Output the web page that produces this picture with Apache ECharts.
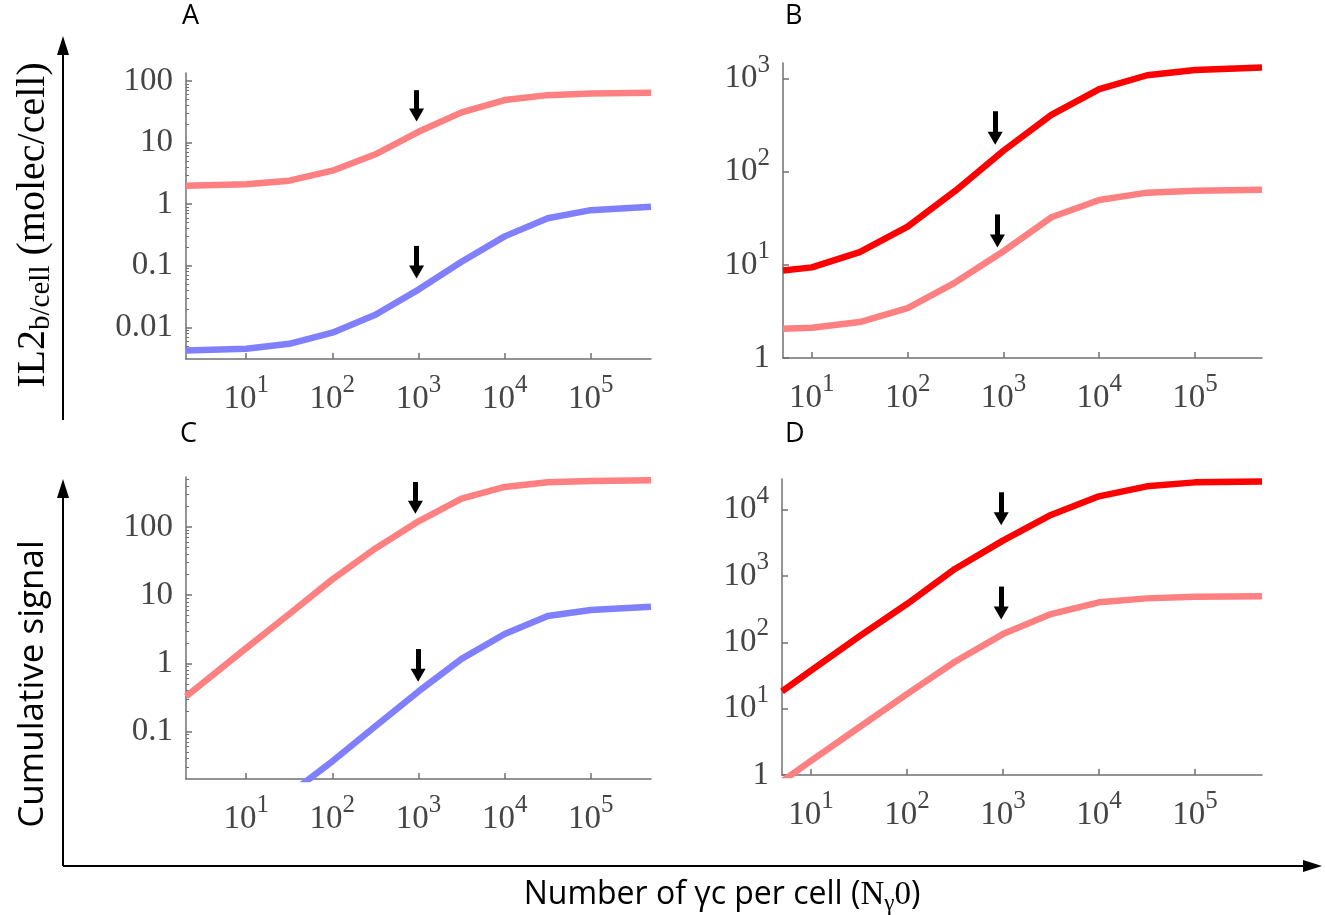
<!DOCTYPE html>
<html>
<head>
<meta charset="utf-8">
<script src="https://cdn.jsdelivr.net/npm/echarts@6/dist/echarts.min.js"></script>
<style>
html, body { margin: 0; padding: 0; background: #fff; }
#chart { width: 1325px; height: 915px; }
</style>
</head>
<body>
<div id="chart"></div>
<script>
// number of gamma-c per cell where the curves were sampled
const nFromTwo = [2, 10, 31.6, 100, 316, 1000, 3162, 10000, 31620, 100000, 500000];
const nFromFive = [5, 10, 31.6, 100, 316, 1000, 3162, 10000, 31620, 100000, 500000];

// A: IL2 bound per cell
const boundPinkA = [2.0, 2.1, 2.41, 3.5, 6.45, 15.0, 31, 49, 59, 63, 64.6];
const boundBlueA = [0.0042, 0.0045, 0.0054, 0.0082, 0.016, 0.041, 0.116, 0.30, 0.59, 0.80, 0.91];
// B
const boundRedB = [8.7, 9.4, 13.7, 25.7, 62.6, 168, 408, 769, 1086, 1239, 1312];
const boundPinkB = [2.06, 2.11, 2.43, 3.43, 6.5, 14.0, 32.4, 49.7, 59.6, 62.6, 64.1];
// C: cumulative signal
const signalPinkC = [0.326, 1.67, 5.3, 17.1, 48.7, 122, 263, 390, 457, 478, 489];
const signalBlueC = [null, null, 0.012, 0.0364, 0.119, 0.386, 1.16, 2.7, 4.96, 6.08, 6.8];
// D
const signalRedD = [18.2, 37.4, 122, 378, 1276, 3414, 8318, 15900, 22500, 25800, 26700];
const signalPinkD = [0.8, 1.63, 5.2, 16.6, 51, 133, 267, 401, 460, 488, 494];

// arrows: [x, top value, head value]
const arrowsA = [[950, 71, 28], [950, 0.21, 0.079]];
const arrowsB = [[820, 446, 229], [866, 34.8, 18]];
const arrowsC = [[920, 460, 196], [990, 1.62, 0.67]];
const arrowsD = [[960, 18300, 7310], [960, 693, 278]];

// tick labels
const xTicks = [10, 100, 1000, 10000, 100000];
const yTicksA = [0.01, 0.1, 1, 10, 100];
const yTicksB = [1, 10, 100, 1000];
const yTicksC = [0.1, 1, 10, 100];
const yTicksD = [1, 10, 100, 1000, 10000];

const PINK = '#ff8080';
const BLUE = '#8080ff';
const RED = '#ff0000';
const AXIS = '#707070';
const LABEL = '#454545';
const SERIF = 'Liberation Serif';
const SANS = 'Open Sans';

const minorTicks = (lo, hi) => {
    const out = [];
    for (let e = -3; e <= 5; e++) {
        for (let m = 2; m <= 9; m++) {
            const v = m * Math.pow(10, e);
            if (v > lo && v < hi) out.push(+v.toPrecision(3));
        }
    }
    return out;
};

const RICH = {
    b: { fontSize: 33, lineHeight: 52, fontFamily: SERIF, color: LABEL },
    s: { fontSize: 25, lineHeight: 24, fontFamily: SERIF, color: LABEL, verticalAlign: 'top' }
};

const powLabel = (v) => {
    const e = Math.round(Math.log10(v));
    if (e === 0) return '{b|1}';
    return '{b|10}{s|' + e + '}';
};
const plainLabel = (v) => '{b|' + (+v.toPrecision(3)) + '}';

const pairs = (xs, ys) => xs.map((x, i) => [x, ys[i]]);

const xAxisFor = (grid, min) => ({
    type: 'log', gridIndex: grid, min: min, max: 500000,
    axisLine: { show: true, onZero: false, lineStyle: { color: AXIS, width: 1.5 } },
    axisTick: { show: true, inside: true, length: 6, customValues: xTicks, lineStyle: { color: AXIS, width: 1.5 } },
    axisLabel: { customValues: xTicks, formatter: powLabel, margin: 14, rich: RICH },
    splitLine: { show: false },
    minorTick: { show: false }
});

const yAxisFor = (grid, min, max, ticks, fmt) => ({
    type: 'log', gridIndex: grid, min: min, max: max,
    axisLine: { show: true, onZero: false, lineStyle: { color: AXIS, width: 1.5 } },
    axisTick: { show: true, inside: true, length: 6, customValues: ticks, lineStyle: { color: AXIS, width: 1.5 } },
    axisLabel: { customValues: ticks, formatter: fmt, margin: 13, rich: RICH },
    splitLine: { show: false }
});

const minorAxisFor = (grid, min, max) => ({
    type: 'log', gridIndex: grid, min: min, max: max, position: 'left',
    axisLine: { show: false },
    axisTick: { show: true, inside: true, length: 3, customValues: minorTicks(min, max), lineStyle: { color: AXIS, width: 1 } },
    axisLabel: { show: false },
    splitLine: { show: false }
});

const curve = (grid, xs, ys, color, arrows) => {
    const s = {
        type: 'line', xAxisIndex: grid, yAxisIndex: grid,
        data: pairs(xs, ys),
        showSymbol: false, symbol: 'none', silent: true, clip: true,
        lineStyle: { color: color, width: 6.5, cap: 'butt', join: 'round' },
        z: 2
    };
    if (arrows) {
        s.markLine = {
            silent: true, animation: false,
            symbol: ['none', 'triangle'], symbolSize: [15, 13],
            lineStyle: { color: '#000', width: 5, type: 'solid' },
            label: { show: false },
            emphasis: { disabled: true },
            data: arrows.map(a => [{ coord: [a[0], a[1]] }, { coord: [a[0], a[2]] }])
        };
    }
    return s;
};

const yMinA = 0.00306, yMaxA = 135;
const yMinB = 1, yMaxB = 1470;
const yMinC = 0.02, yMaxC = 545;
const yMinD = 1, yMaxD = 29000;

const panelLetter = (text, x, y) => ({
    type: 'text', left: x, top: y,
    style: { text: text, font: '27px "' + SANS + '"', fill: '#000' }
});

const option = {
    animation: false,
    backgroundColor: '#fff',
    grid: [
        { left: 186, top: 73, width: 465, height: 286, outerBoundsMode: 'none' },
        { left: 783, top: 63, width: 479, height: 295, outerBoundsMode: 'none' },
        { left: 186, top: 477, width: 465, height: 302, outerBoundsMode: 'none' },
        { left: 782, top: 479, width: 480, height: 296, outerBoundsMode: 'none' }
    ],
    xAxis: [xAxisFor(0, 2), xAxisFor(1, 5), xAxisFor(2, 2), xAxisFor(3, 5)],
    yAxis: [
        yAxisFor(0, yMinA, yMaxA, yTicksA, plainLabel),
        yAxisFor(1, yMinB, yMaxB, yTicksB, powLabel),
        yAxisFor(2, yMinC, yMaxC, yTicksC, plainLabel),
        yAxisFor(3, yMinD, yMaxD, yTicksD, powLabel),
        minorAxisFor(0, yMinA, yMaxA),
        minorAxisFor(2, yMinC, yMaxC)
    ],
    series: [
        curve(0, nFromTwo, boundPinkA, PINK, arrowsA),
        curve(0, nFromTwo, boundBlueA, BLUE),
        curve(1, nFromFive, boundRedB, RED, arrowsB),
        curve(1, nFromFive, boundPinkB, PINK),
        curve(2, nFromTwo, signalPinkC, PINK, arrowsC),
        curve(2, nFromTwo, signalBlueC, BLUE),
        curve(3, nFromFive, signalRedD, RED, arrowsD),
        curve(3, nFromFive, signalPinkD, PINK)
    ],
    graphic: [
        panelLetter('A', 182, 3),
        panelLetter('B', 785, 3),
        panelLetter('C', 180, 421),
        panelLetter('D', 785, 421),
        // outer axes with arrow heads
        { type: 'line', shape: { x1: 63, y1: 420, x2: 63, y2: 50 }, style: { stroke: '#000', lineWidth: 2 } },
        { type: 'polygon', shape: { points: [[57, 55], [63, 36], [69, 55]] }, style: { fill: '#000' } },
        { type: 'line', shape: { x1: 63, y1: 866, x2: 63, y2: 495 }, style: { stroke: '#000', lineWidth: 2 } },
        { type: 'polygon', shape: { points: [[57, 498], [63, 479], [69, 498]] }, style: { fill: '#000' } },
        { type: 'line', shape: { x1: 63, y1: 866, x2: 1305, y2: 866 }, style: { stroke: '#000', lineWidth: 2 } },
        { type: 'polygon', shape: { points: [[1303, 860], [1322, 866], [1303, 872]] }, style: { fill: '#000' } },
        // axis titles
        {
            type: 'text', x: 33, y: 225, rotation: Math.PI / 2,
            style: {
                text: '{m|IL2}{s|b/cell}{m| (molec/cell)}',
                align: 'center', verticalAlign: 'middle',
                rich: {
                    m: { fontSize: 40, fontFamily: SERIF, fill: '#000', lineHeight: 46 },
                    s: { fontSize: 29, fontFamily: SERIF, fill: '#000', lineHeight: 46, verticalAlign: 'bottom' }
                }
            }
        },
        {
            type: 'text', x: 33, y: 684, rotation: Math.PI / 2,
            style: {
                text: 'Cumulative signal', align: 'center', verticalAlign: 'middle',
                font: '35px "' + SANS + '"', fill: '#000'
            }
        },
        {
            type: 'text', x: 722, y: 895,
            style: {
                text: '{m|Number of γc per cell (}{n|N}{g|γ}{n|0}{m|)}',
                align: 'center', verticalAlign: 'middle',
                rich: {
                    m: { fontSize: 32, fontFamily: SANS, fill: '#000', lineHeight: 40 },
                    n: { fontSize: 33, fontFamily: SERIF, fill: '#000', lineHeight: 40 },
                    g: { fontSize: 23, fontFamily: SERIF, fill: '#000', lineHeight: 34, verticalAlign: 'bottom' }
                }
            }
        }
    ]
};

const chart = echarts.init(document.getElementById('chart'));
chart.setOption(option);
</script>
</body>
</html>
